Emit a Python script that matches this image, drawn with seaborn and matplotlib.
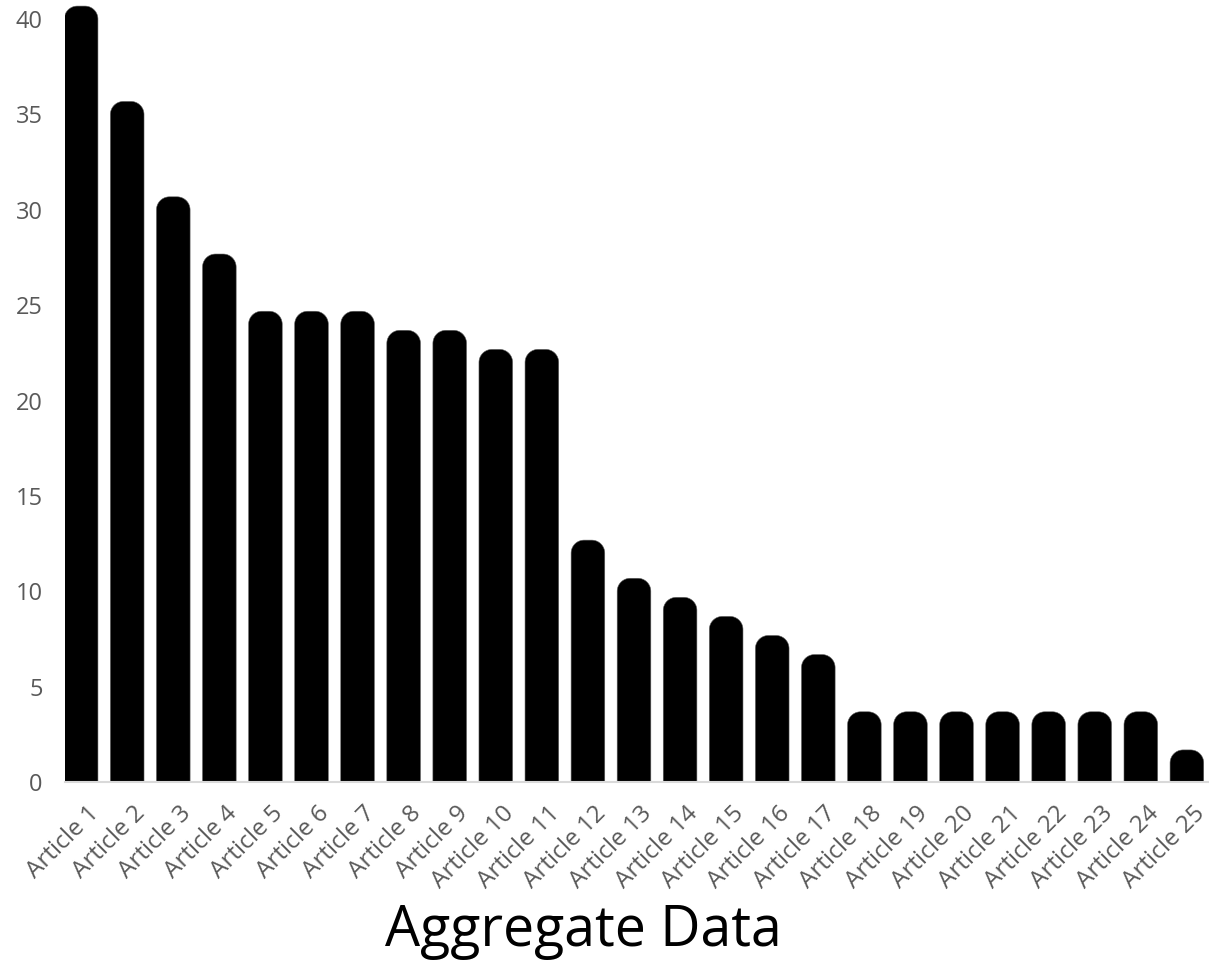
import matplotlib
matplotlib.use("Agg")
import numpy as np
import matplotlib.pyplot as plt
import matplotlib.transforms as mtransforms
import seaborn as sns
import pandas as pd
from matplotlib.patches import PathPatch
from matplotlib.path import Path

articles = [f"Article {i}" for i in range(1, 26)]
counts = [40, 35, 30, 27, 24, 24, 24, 23, 23, 22, 22, 12, 10, 9, 8, 7, 6,
          3, 3, 3, 3, 3, 3, 3, 1]
y_ticks = [0, 5, 10, 15, 20, 25, 30, 35, 40]
title = "Aggregate Data"

sns.set_theme(style="white")
plt.rcParams['font.family'] = ['Open Sans', 'DejaVu Sans']

W, H = 1209, 960
fig = plt.figure(figsize=(W / 100, H / 100), dpi=100)
ax_left, ax_right = 65, 1209
ax_bottom_px, ax_top_px = 782.0, 0
ax = fig.add_axes([ax_left / W, (H - ax_bottom_px) / H,
                   (ax_right - ax_left) / W, (ax_bottom_px - ax_top_px) / H])

df = pd.DataFrame({"article": articles, "count": counts})
sns.barplot(data=df, x="article", y="count", ax=ax, color="black",
            width=0.73, saturation=1)

xmin, xmax = -0.35, 24.48
ymax = 41.0
ax.set_xlim(xmin, xmax)
ax.set_ylim(0, ymax)

# rounded caps drawn on top of each seaborn bar
px_per_x = (ax_right - ax_left) / (xmax - xmin)
px_per_y = (ax_bottom_px - ax_top_px) / ymax
radius_px = 13
r_x = radius_px / px_per_x
r_y = radius_px / px_per_y
theta = np.linspace(0, np.pi / 2, 20)
for p in list(ax.patches):
    x, w, h = p.get_x(), p.get_width(), p.get_height()
    p.set_visible(False)
    lx = x + r_x - r_x * np.cos(theta)
    ly = h + r_y * np.sin(theta)
    rx_ = x + w - r_x + r_x * np.sin(theta)
    ry_ = h + r_y * np.cos(theta)
    xs = np.concatenate([[x], lx, rx_, [x + w, x]])
    ys = np.concatenate([[0], ly, ry_, [0, 0]])
    verts = np.column_stack([xs, ys])
    codes = [Path.MOVETO] + [Path.LINETO] * (len(verts) - 2) + [Path.CLOSEPOLY]
    ax.add_patch(PathPatch(Path(verts, codes), facecolor="black",
                           edgecolor="#606060", linewidth=0.4, zorder=2))

for s in ["top", "right", "left"]:
    ax.spines[s].set_visible(False)
ax.spines["bottom"].set_color("#d9d9d9")
ax.spines["bottom"].set_linewidth(1.5)
ax.spines["bottom"].set_zorder(3)
ax.set_yticks(y_ticks)
ax.set_yticklabels([str(t) for t in y_ticks])
ax.tick_params(axis="y", length=0, pad=16, labelsize=17, labelcolor="#595959")
ax.tick_params(axis="x", length=0, pad=14, labelsize=17.5, labelcolor="#595959")
offset = mtransforms.ScaledTranslation(6 / 100, 0, fig.dpi_scale_trans)
for lab in ax.get_xticklabels():
    lab.set_rotation(45)
    lab.set_ha("right")
    lab.set_va("top")
    lab.set_rotation_mode("anchor")
    lab.set_transform(lab.get_transform() + offset)
ax.set_xlabel("")
ax.set_ylabel("")
ax.grid(False)

fig.text(583 / W, 1 - 932 / H, title, ha="center", va="center",
         fontsize=40, color="black")

fig.savefig("out.png", dpi=100)
